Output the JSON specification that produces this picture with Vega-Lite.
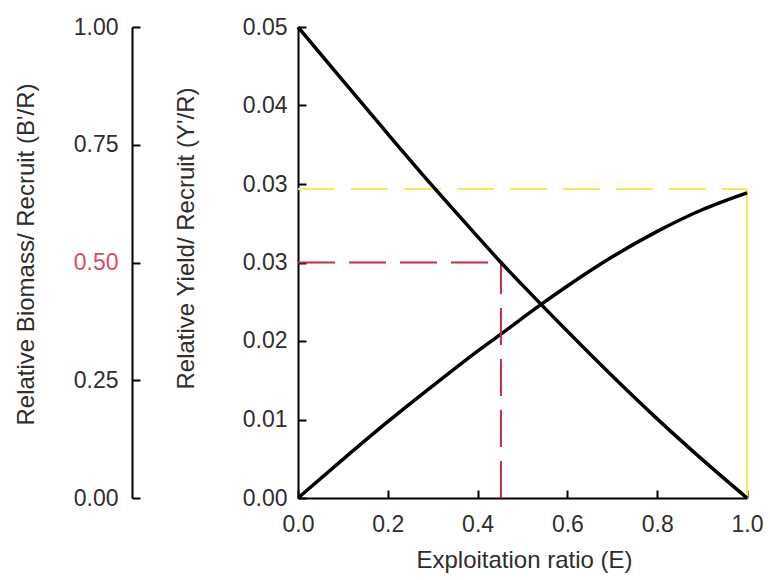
{
  "$schema": "https://vega.github.io/schema/vega-lite/v6.json",
  "width": 449,
  "height": 471,
  "autosize": {"type": "none"},
  "padding": {"left": 298, "top": 27, "right": 23, "bottom": 82},
  "background": "white",
  "config": {
    "view": {"stroke": null},
    "font": "Liberation Sans",
    "axis": {
      "grid": false,
      "domainColor": "#000000",
      "domainWidth": 2,
      "tickColor": "#000000",
      "tickWidth": 2,
      "tickSize": -8,
      "labelFont": "Liberation Sans",
      "labelFontSize": 23,
      "labelColor": "#2e2e2e",
      "titleFont": "Liberation Sans",
      "titleFontSize": 24,
      "titleFontWeight": "normal",
      "titleColor": "#2e2e2e"
    }
  },
  "datasets": {
    "yieldCurve": [
      {"E": 0.0, "Y": 0.0},
      {"E": 0.1, "Y": 0.0041},
      {"E": 0.2, "Y": 0.0081},
      {"E": 0.3, "Y": 0.0119},
      {"E": 0.4, "Y": 0.0156},
      {"E": 0.452, "Y": 0.0174},
      {"E": 0.543, "Y": 0.0206},
      {"E": 0.6, "Y": 0.0225},
      {"E": 0.7, "Y": 0.0256},
      {"E": 0.8, "Y": 0.0283},
      {"E": 0.9, "Y": 0.0306},
      {"E": 1.0, "Y": 0.0324}
    ],
    "biomassCurve": [
      {"E": 0.0, "B": 1.0},
      {"E": 0.1, "B": 0.886},
      {"E": 0.2, "B": 0.773},
      {"E": 0.3, "B": 0.662},
      {"E": 0.4, "B": 0.555},
      {"E": 0.452, "B": 0.5},
      {"E": 0.5, "B": 0.452},
      {"E": 0.6, "B": 0.354},
      {"E": 0.7, "B": 0.259},
      {"E": 0.8, "B": 0.168},
      {"E": 0.9, "B": 0.082},
      {"E": 1.0, "B": 0.0}
    ],
    "maxYieldLevel": [{"E": 0.0, "E2": 1.0, "Y": 0.0328, "Y2": 0.0328}],
    "maxYieldDrop": [{"E": 1.0, "E2": 1.0, "Y": 0.0, "Y2": 0.0328}],
    "halfBiomass": [
      {"E": 0.0, "E2": 0.452, "B": 0.5, "B2": 0.5},
      {"E": 0.452, "E2": 0.452, "B": 0.0, "B2": 0.5}
    ]
  },
  "encoding": {
    "x": {
      "field": "E",
      "type": "quantitative",
      "scale": {"domain": [0, 1], "nice": false, "zero": false},
      "axis": {
        "title": "Exploitation ratio (E)",
        "values": [0, 0.2, 0.4, 0.6, 0.8, 1.0],
        "format": ".1f",
        "labelPadding": 23,
        "labelFlush": false,
        "titleX": 226,
        "titleY": 62,
        "titleAlign": "center",
        "titleBaseline": "middle"
      }
    }
  },
  "resolve": {"scale": {"y": "independent"}, "axis": {"y": "independent"}},
  "layer": [
    {
      "encoding": {
        "y": {
          "field": "Y",
          "type": "quantitative",
          "scale": {"domain": [0, 0.05], "nice": false},
          "axis": {
            "orient": "left",
            "title": "Relative Yield/ Recruit (Y'/R)",
            "values": [0, 0.008333, 0.016667, 0.025, 0.033333, 0.041667, 0.05],
            "format": ".2f",
            "labelPadding": 19,
            "labelFlush": false,
            "titleAngle": -90,
            "titleX": -112,
            "titleY": 211,
            "titleAlign": "center",
            "titleBaseline": "middle"
          }
        }
      },
      "layer": [
        {
          "data": {"name": "maxYieldLevel"},
          "mark": {"type": "rule", "color": "#eeee55", "strokeWidth": 2, "strokeDash": [37, 16]},
          "encoding": {"x2": {"field": "E2"}, "y2": {"field": "Y2"}}
        },
        {
          "data": {"name": "maxYieldDrop"},
          "mark": {"type": "rule", "color": "#eeee55", "strokeWidth": 2},
          "encoding": {"x2": {"field": "E2"}, "y2": {"field": "Y2"}}
        },
        {
          "data": {"name": "yieldCurve"},
          "mark": {"type": "line", "color": "#000000", "strokeWidth": 3.5, "interpolate": "monotone"},
          "encoding": {}
        }
      ]
    },
    {
      "encoding": {
        "y": {
          "field": "B",
          "type": "quantitative",
          "scale": {"domain": [0, 1], "nice": false},
          "axis": {
            "orient": "left",
            "offset": 166,
            "title": "Relative Biomass/ Recruit (B'/R)",
            "values": [0, 0.25, 0.5, 0.75, 1.0],
            "format": ".2f",
            "labelPadding": 22,
            "labelFlush": false,
            "labelColor": {"condition": {"test": "datum.value === 0.5", "value": "#dd4a60"}, "value": "#2e2e2e"},
            "titleAngle": -90,
            "titleX": -106,
            "titleY": 227,
            "titleAlign": "center",
            "titleBaseline": "middle"
          }
        }
      },
      "layer": [
        {
          "data": {"name": "halfBiomass"},
          "mark": {"type": "rule", "color": "#c42d45", "strokeWidth": 2, "strokeDash": [37, 14]},
          "encoding": {"x2": {"field": "E2"}, "y2": {"field": "B2"}}
        },
        {
          "data": {"name": "biomassCurve"},
          "mark": {"type": "line", "color": "#000000", "strokeWidth": 3.5, "interpolate": "monotone"},
          "encoding": {}
        }
      ]
    }
  ]
}
